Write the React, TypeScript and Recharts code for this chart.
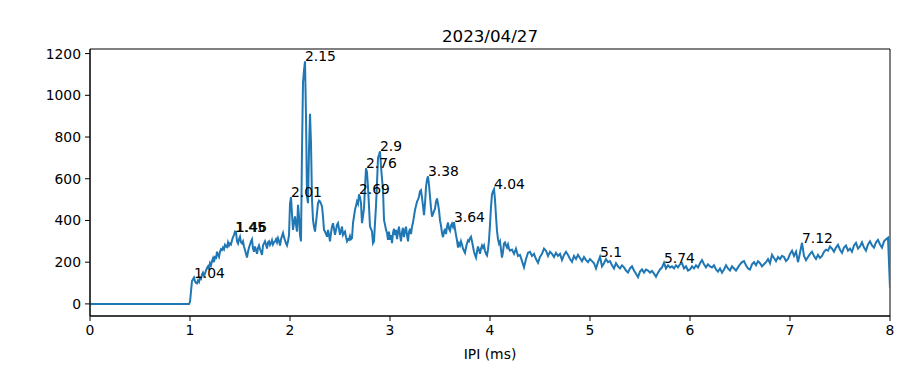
import { LabelList, Line, LineChart, ReferenceArea, XAxis, YAxis } from 'recharts'

// flat part before the first interval
const leadIpi = [0, 0.99]
const leadCounts = [0, 0]

// counts from 1.00 to 4.20 ms, every 0.01 ms
const fineCounts = [
  10, 60, 110, 118, 126, 108, 100, 98, 112, 105,
  125, 120, 140, 150, 135, 145, 160, 172, 180, 165,
  195, 185, 205, 218, 200, 230, 215, 250, 236, 225,
  250, 262, 258, 270, 262, 283, 275, 272, 295, 280,
  290, 285, 305, 320, 330, 347, 346, 300, 290, 310,
  322, 295, 290, 300, 275, 258, 240, 222, 250, 270,
  285, 300, 310, 265, 250, 275, 260, 240, 268, 280,
  262, 250, 235, 280, 290, 300, 285, 265, 295, 300,
  282, 290, 305, 285, 295, 300, 310, 295, 315, 300,
  280, 310, 325, 340, 320, 305, 290, 280, 300, 330,
  480, 512, 430, 355, 390, 420, 380, 347, 475, 420,
  330, 300, 740, 1060, 1120, 1163, 900, 515, 483, 740,
  912, 770, 500, 403, 370, 347, 390, 435, 483, 495,
  491, 480, 467, 419, 355, 347, 335, 322, 355, 330,
  300, 340, 371, 387, 360, 331, 355, 379, 387, 360,
  331, 350, 371, 331, 340, 347, 320, 300, 310, 307,
  325, 310, 315, 387, 420, 451, 470, 491, 480, 525,
  510, 483, 387, 420, 459, 560, 650, 630, 560, 467,
  371, 360, 347, 291, 300, 387, 470, 579, 700, 715,
  732, 659, 600, 547, 403, 380, 355, 340, 307, 347,
  307, 330, 291, 340, 360, 330, 355, 310, 345, 370,
  330, 300, 345, 365, 320, 350, 370, 330, 300, 345,
  360, 335, 370, 390, 420, 450, 470, 490, 500, 515,
  540, 545, 510, 470, 425, 480, 560, 595, 612, 570,
  515, 460, 418, 430, 445, 455, 490, 505, 480, 450,
  400, 375, 340, 320, 345, 360, 335, 370, 390, 360,
  350, 375, 385, 370, 392, 360, 330, 305, 270, 290,
  280, 300, 285, 265, 255, 245, 270, 290, 305, 300,
  315, 322, 300, 275, 250, 235, 222, 250, 275, 260,
  240, 265, 280, 270, 280, 255, 240, 232, 260, 305,
  380, 465, 525, 540, 550, 500, 420, 350, 310, 290,
  300, 260, 222, 250, 290, 295, 280, 270, 285, 265,
  255,
]

// counts from 4.22 to 8.00 ms, every 0.02 ms
const coarseCounts = [
  260, 240, 265, 230, 235, 205, 175, 215, 245, 250,
  230, 240, 215, 197, 225, 240, 265, 255, 230, 250,
  240, 225, 245, 230, 240, 210, 235, 250, 235, 215,
  202, 230, 215, 235, 220, 205, 225, 210, 200, 215,
  205, 195, 170, 200, 226, 180, 195, 215, 200, 205,
  185, 170, 195, 180, 170, 185, 175, 160, 150, 170,
  180, 160, 145, 128, 155, 165, 150, 165, 160, 150,
  158, 145, 130, 150, 165, 175, 197, 170, 185, 175,
  180, 170, 185, 175, 190, 195, 170, 180, 160, 165,
  180, 170, 185, 175, 195, 210, 190, 175, 190, 180,
  175, 185, 165, 155, 170, 150, 165, 185, 170, 160,
  180, 170, 160, 175, 190, 200, 205, 185, 170, 165,
  190, 200, 185, 205, 195, 180, 190, 200, 215, 195,
  235, 220, 205, 225, 215, 230, 225, 205, 215, 240,
  255, 230, 250, 200, 245, 293, 230, 210, 225, 240,
  250, 230, 215, 235, 220, 230, 250, 260, 255, 275,
  265, 250, 270, 283, 260, 245, 270, 280, 255, 265,
  250, 280, 293, 265, 275, 295, 270, 255, 285, 300,
  280, 270, 295, 307, 285, 270, 300, 310, 317, 75,
]

const peakLabels = ['1.04', '1.45', '1.46', '2.01', '2.15', '2.69', '2.76', '2.9', '3.38', '3.64', '4.04', '5.1', '5.74', '7.12']

const xTicks = [0, 1, 2, 3, 4, 5, 6, 7, 8]
const yTicks = [0, 200, 400, 600, 800, 1000, 1200]

function point(ipi: number, count: number) {
  const peak = peakLabels.find((p) => Number(p) === ipi) ?? ''
  return { ipi, count, peak }
}

const data = [
  ...leadIpi.map((x, i) => point(x, leadCounts[i])),
  ...fineCounts.map((c, i) => point((100 + i) / 100, c)),
  ...coarseCounts.map((c, i) => point((422 + 2 * i) / 100, c)),
]

const renderPeak = (props: any) => {
  const { x, y, value } = props
  if (!value) return null
  return (
    <text x={x} y={y} fontSize={13.9} fill='#000'>
      {value}
    </text>
  )
}

export default function App() {
  return (
    <div style={{ position: 'absolute', left: 0, top: 0, width: 900, height: 366, fontFamily: 'DejaVu Sans', background: '#fff' }}>
      <div style={{ position: 'absolute', left: 90, top: 26, width: 800, textAlign: 'center', fontSize: 16.7, lineHeight: '20px' }}>
        2023/04/27
      </div>
      <LineChart width={900} height={366} data={data} margin={{ top: 49, right: 10, bottom: 0, left: 0 }}>
        <XAxis
          dataKey='ipi'
          type='number'
          domain={[0, 8]}
          ticks={xTicks}
          allowDataOverflow
          height={50}
          stroke='#000'
          tick={{ fill: '#000', fontSize: 13.9 }}
          tickSize={5}
          tickMargin={4}
          label={{ value: 'IPI (ms)', position: 'insideBottom', offset: 7, fill: '#000', fontSize: 13.9 }}
        />
        <YAxis
          type='number'
          domain={[-58, 1222]}
          ticks={yTicks}
          allowDataOverflow
          width={90}
          stroke='#000'
          tick={{ fill: '#000', fontSize: 13.9 }}
          tickSize={5}
          tickMargin={4}
        />
        <ReferenceArea x1={0} x2={8} y1={-58} y2={1222} fill='none' stroke='#000' strokeWidth={1} />
        <Line
          dataKey='count'
          type='linear'
          stroke='#1f77b4'
          strokeWidth={2}
          dot={false}
          isAnimationActive={false}
        >
          <LabelList dataKey='peak' content={renderPeak} />
        </Line>
      </LineChart>
    </div>
  )
}
